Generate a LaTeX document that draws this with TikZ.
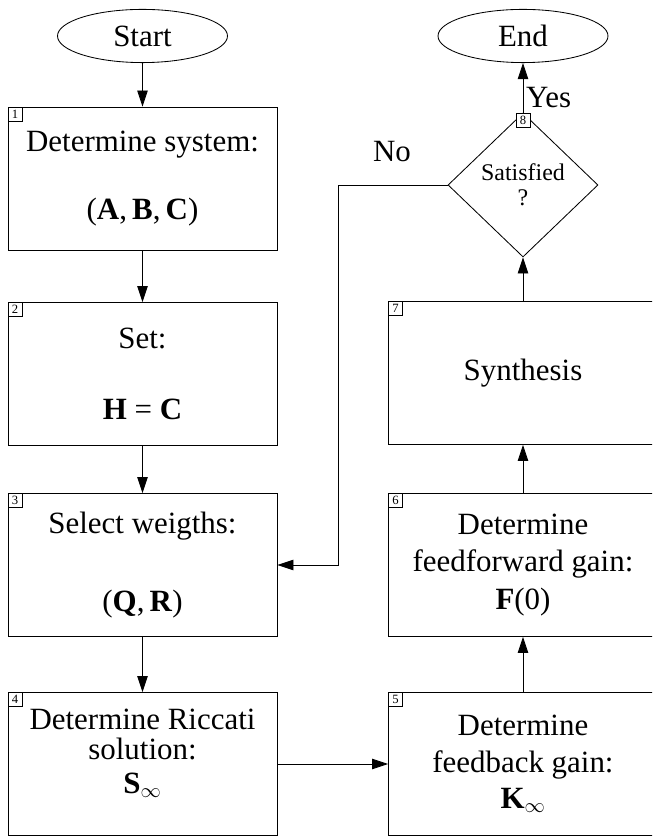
\documentclass[tikz,border=0pt]{standalone}
\usepackage{fontspec}
\setmainfont{Liberation Serif}
\usetikzlibrary{arrows.meta,shapes.geometric}

\begin{document}
\begin{tikzpicture}[every node/.style={font=\fontsize{22}{20}\selectfont}, >={Triangle[length=4mm,width=2.6mm]}, line width=0.6pt,
	box/.style={draw, minimum width=6.725cm, minimum height=3.575cm, align=center, inner sep=0pt},
	term/.style={draw, ellipse, minimum width=4.25cm, minimum height=1.33cm, inner sep=0pt},
	decision/.style={draw, diamond, minimum width=3.75cm, minimum height=3.6cm, inner sep=0pt, align=center, font=\fontsize{17}{18}\selectfont},
	tag/.style={draw, fill=white, line width=0.4pt, minimum size=0.36cm, inner sep=0pt, font=\fontsize{9}{9}\selectfont}]
	\useasboundingbox (0,0) rectangle (16.3,20.95);
	\clip (0,0) rectangle (16.3,20.95);
	% left column
	\node[term] (start) at (3.5625,20.05) {Start};
	\node[box] (b1) at (3.5625,16.4875) {Determine system:\\[27pt](\textbf{A},\,\textbf{B},\,\textbf{C})};
	\node[box] (b2) at (3.5625,11.6) {Set:\\[30pt]\textbf{H} = \textbf{C}};
	\node[box] (b3) at (3.5625,6.825) {Select weigths:\\[35pt](\textbf{Q},\,\textbf{R})};
	\node[box] (b4) at (3.5625,1.85) {Determine Riccati\\[1pt]solution:\\[4pt]\textbf{S}$_{\infty}$\rule[-18pt]{0pt}{0pt}};
	% right column
	\node[box] (b5) at (13.075,1.85) {Determine\\[6pt]feedback gain:\\[6pt]\textbf{K}$_{\infty}$};
	\node[box] (b6) at (13.075,6.825) {Determine\\[6pt]feedforward gain:\\[6pt]\textbf{F}(0)};
	\node[box] (b7) at (13.075,11.625) {Synthesis};
	\node[decision] (sat) at (13.075,16.325) {Satisfied\\?};
	\node[term] (end) at (13.075,20.05) {End};
	% step numbers
	\node[tag, anchor=north west] (t1) at (b1.north west) {1};
	\node[tag, anchor=north west] (t2) at (b2.north west) {2};
	\node[tag, anchor=north west] (t3) at (b3.north west) {3};
	\node[tag, anchor=north west] (t4) at (b4.north west) {4};
	\node[tag, anchor=north west] (t5) at (b5.north west) {5};
	\node[tag, anchor=north west] (t6) at (b6.north west) {6};
	\node[tag, anchor=north west] (t7) at (b7.north west) {7};
	\node[tag, anchor=north] (t8) at (sat.north) {8};
	% connectors
	\draw[->] (start) -- (b1);
	\draw[->] (b1) -- (b2);
	\draw[->] (b2) -- (b3);
	\draw[->] (b3) -- (b4);
	\draw[->] (b4) -- (b5);
	\draw[->] (b5) -- (b6);
	\draw[->] (b6) -- (b7);
	\draw[->] (b7) -- (sat);
	\draw[->] (t8) -- (end) node[pos=0.3, right, inner sep=2pt] (yes) {Yes};
	\coordinate (back) at (8.45,6.825);
	\draw[->] (sat.west) -| (back) -- (b3.east);
	\node (no) at (9.8,17.15) {No};
\end{tikzpicture}
\end{document}
